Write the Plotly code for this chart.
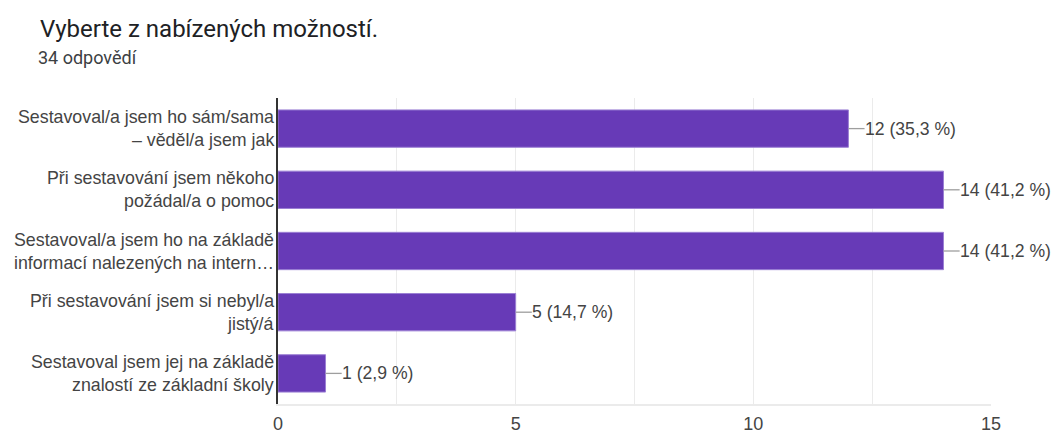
import plotly.graph_objects as go

title = "Vyberte z nabízených možností."
subtitle = "34 odpovědí"
categories = [
    ["Sestavoval/a jsem ho sám/sama", "– věděl/a jsem jak"],
    ["Při sestavování jsem někoho", "požádal/a o pomoc"],
    ["Sestavoval/a jsem ho na základě", "informací nalezených na intern…"],
    ["Při sestavování jsem si nebyl/a", "jistý/á"],
    ["Sestavoval jsem jej na základě", "znalostí ze základní školy"],
]
values = [12, 14, 14, 5, 1]
labels = ["12 (35,3 %)", "14 (41,2 %)", "14 (41,2 %)", "5 (14,7 %)", "1 (2,9 %)"]
xticks = [0, 5, 10, 15]

cat_ids = ["c%d" % i for i in range(len(categories))]
FONT = "Liberation Sans, Arial, sans-serif"
TXT = "#444444"

W, H = 1056, 430
L, R, T, B = 278, W - 991, 98, H - 404
PH = H - T - B
PW = W - L - R

fig = go.Figure()
fig.add_trace(go.Bar(
    x=values, y=cat_ids, orientation="h",
    marker=dict(color="#673ab7", line=dict(color="#9b7fd4", width=1)),
    hoverinfo="skip",
))

lead = 0.34
shapes = []
annotations = []
for cid, v, lab in zip(cat_ids, values, labels):
    shapes.append(dict(type="line", xref="x", yref="y", x0=v, x1=v + lead,
                       y0=cid, y1=cid, line=dict(color="#9e9e9e", width=1.3)))
    annotations.append(dict(x=v + lead, y=cid, xref="x", yref="y", text=lab,
                            showarrow=False, xanchor="left", yanchor="middle",
                            xshift=-2, font=dict(family=FONT, size=17.6, color=TXT)))
for cid, lines in zip(cat_ids, categories):
    n = len(lines)
    for j, line in enumerate(lines):
        annotations.append(dict(x=0, y=cid, xref="paper", yref="y", text=line,
                                showarrow=False, xanchor="right", yanchor="middle",
                                xshift=-2, yshift=(n - 1) * 11.5 - j * 23,
                                font=dict(family=FONT, size=17.8, color=TXT)))

def px_x(wx):
    return (wx - L) / PW

def px_y(wy):
    return 1 + (T - wy) / PH

annotations.append(dict(x=px_x(38), y=px_y(29), xref="paper", yref="paper",
                        text=title, showarrow=False, xanchor="left", yanchor="middle",
                        font=dict(family="Roboto, sans-serif", size=24, color="#202124")))
annotations.append(dict(x=px_x(36), y=px_y(57), xref="paper", yref="paper",
                        text=subtitle, showarrow=False, xanchor="left", yanchor="middle",
                        font=dict(family="Roboto, sans-serif", size=18, color="#3c4043")))

fig.update_layout(
    width=W, height=H,
    margin=dict(l=L, r=R, t=T, b=B, autoexpand=False),
    paper_bgcolor="white", plot_bgcolor="white",
    showlegend=False, bargap=0.39,
    shapes=shapes, annotations=annotations,
    xaxis=dict(range=[0, 15], tickvals=xticks, showgrid=True, gridcolor="#ebebeb",
               gridwidth=1, minor=dict(dtick=2.5, showgrid=True, gridcolor="#ebebeb"),
               zeroline=False, showline=True, linecolor="#ebebeb", linewidth=2,
               ticks="outside", ticklen=2, tickcolor="rgba(0,0,0,0)", automargin=False,
               tickfont=dict(family=FONT, size=18, color=TXT), fixedrange=True),
    yaxis=dict(categoryorder="array", categoryarray=cat_ids, autorange="reversed",
               showticklabels=False, showgrid=False, zeroline=False, automargin=False,
               showline=True, linecolor="#333333", linewidth=2, fixedrange=True),
)
fig.write_html(
    "out.html",
    config={"displayModeBar": False},
    post_script="document.body.style.margin='0';document.documentElement.style.overflow='hidden';",
)
